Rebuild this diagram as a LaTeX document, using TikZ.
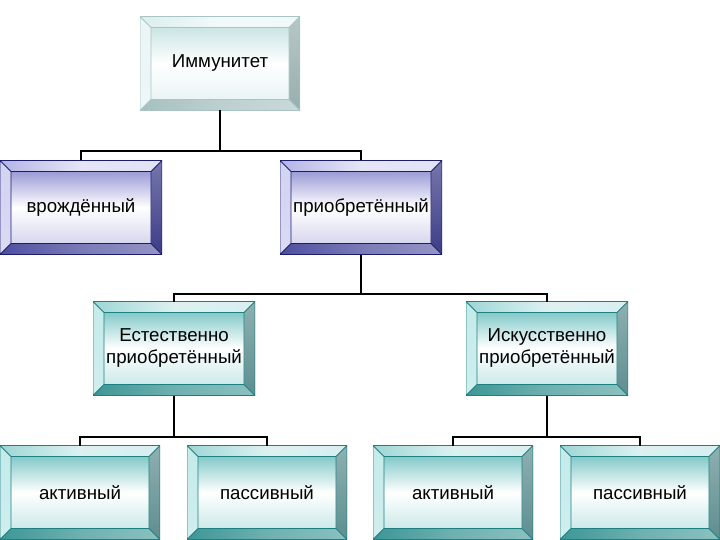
\documentclass[tikz,border=0pt]{standalone}
\usepackage{fontspec}
\setmainfont{Liberation Sans}
\usetikzlibrary{calc}
\definecolor{tOut}{HTML}{1F7F7F}
\definecolor{tTop}{HTML}{9ED6D6}
\definecolor{tLeft}{HTML}{C4EAEA}
\definecolor{tRight}{HTML}{5E8E90}
\definecolor{tBot}{HTML}{3E9696}
\definecolor{tFace}{HTML}{6FC0C0}
\definecolor{bOut}{HTML}{1C1C6A}
\definecolor{bTop}{HTML}{B4B4E6}
\definecolor{bLeft}{HTML}{D2D2F2}
\definecolor{bRight}{HTML}{3C3C88}
\definecolor{bBot}{HTML}{4E4EA0}
\definecolor{bFace}{HTML}{8A8AD0}
\definecolor{gOut}{HTML}{A8C4C4}
\definecolor{gTop}{HTML}{DCEEEE}
\definecolor{gLeft}{HTML}{EAF5F5}
\definecolor{gRight}{HTML}{98AEAE}
\definecolor{gBot}{HTML}{A6C0C0}
\definecolor{gFace}{HTML}{C2E0E0}
\newcommand\bevelframe[6]{%
  \path (path picture bounding box.north west) coordinate (oNW)
        (path picture bounding box.north east) coordinate (oNE)
        (path picture bounding box.south west) coordinate (oSW)
        (path picture bounding box.south east) coordinate (oSE);
  \path ([shift={(11pt,-11pt)}]oNW) coordinate (iNW)
        ([shift={(-11pt,-11pt)}]oNE) coordinate (iNE)
        ([shift={(11pt,11pt)}]oSW) coordinate (iSW)
        ([shift={(-11pt,11pt)}]oSE) coordinate (iSE);
  \shade[left color=#2, right color=#2!40!white, middle color=#2!35!white] (oNW) -- (oNE) -- (iNE) -- (iNW) -- cycle;
  \shade[top color=#3, bottom color=#3!80!white] (oNW) -- (iNW) -- (iSW) -- (oSW) -- cycle;
  \shade[top color=#4!70!white, bottom color=#4] (oNE) -- (oSE) -- (iSE) -- (iNE) -- cycle;
  \shade[left color=#5, right color=#5!60!white, middle color=#5!75!white] (oSW) -- (iSW) -- (iSE) -- (oSE) -- cycle;
  \shade[shading angle=60, top color=#6!85!white, bottom color=#6!35!white, middle color=white] (iNW) rectangle (iSE);
  \draw[#1, line width=0.9pt] (oNW) rectangle (oSE) (iNW) rectangle (iSE)
        (oNW) -- (iNW) (oNE) -- (iNE) (oSW) -- (iSW) (oSE) -- (iSE);
}
\tikzset{
  box/.style={inner sep=0pt, outer sep=0pt, fill=white, minimum height=94pt,
    align=center, font=\fontsize{18.7}{22}\selectfont, text=black},
  tealbox/.style={box, minimum width=160pt,
    path picture={\bevelframe{tOut}{tTop}{tLeft}{tRight}{tBot}{tFace}}},
  tealwide/.style={tealbox, minimum width=162pt},
  bluebox/.style={box, minimum width=162pt,
    path picture={\bevelframe{bOut}{bTop}{bLeft}{bRight}{bBot}{bFace}}},
  greybox/.style={box, minimum width=160pt,
    path picture={\bevelframe{gOut}{gTop}{gLeft}{gRight}{gBot}{gFace}}},
  link/.style={draw=black, line width=1.1pt}
}
\begin{document}
\begin{tikzpicture}[x=1pt, y=-1pt]
\useasboundingbox (0,0) rectangle (720,540);
\node[greybox] (imm) at (220,63.5) {Иммунитет};
\node[bluebox] (vr) at (81,207.5) {врождённый};
\node[bluebox] (pr) at (361,207.5) {приобретённый};
\node[tealwide] (est) at (174,348.5) {Естественно\\приобретённый};
\node[tealwide] (isk) at (547,348.5) {Искусственно\\приобретённый};
\node[tealbox] (a1) at (80,492.5) {активный};
\node[tealbox] (p1) at (267,492.5) {пассивный};
\node[tealbox] (a2) at (453,492.5) {активный};
\node[tealbox] (p2) at (640,492.5) {пассивный};
\coordinate (j1) at (220,151);
\coordinate (j2) at (361,294);
\coordinate (j3) at (174,437);
\coordinate (j4) at (547,437);
\draw[link] (imm.south) -- (j1) -| (vr.north);
\draw[link] (j1) -| (pr.north);
\draw[link] (pr.south) -- (j2) -| (est.north);
\draw[link] (j2) -| (isk.north);
\draw[link] (est.south) -- (j3) -| (a1.north);
\draw[link] (j3) -| (p1.north);
\draw[link] (isk.south) -- (j4) -| (a2.north);
\draw[link] (j4) -| (p2.north);
\end{tikzpicture}
\end{document}
